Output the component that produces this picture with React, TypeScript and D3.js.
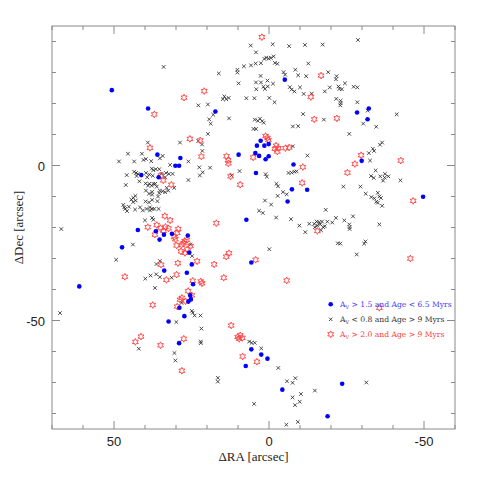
import React from "react";
import * as d3 from "d3";

// [ΔRA, ΔDec] in arcsec
const bluePoints: [number, number][] = [
  [50.7, 24.3], [39.0, 18.4], [36.0, 3.5], [41.2, -3.1], [35.6, -3.8], [-5.1, 27.7], [17.3, 17.4],
  [2.7, 8.0], [3.9, 6.4], [1.5, 6.4], [0.1, 6.9], [9.8, 3.5], [4.4, 4.0], [3.2, 3.1], [0.1, 3.0],
  [1.1, 2.0], [28.6, 2.4], [30.2, -0.1], [29.0, -0.1], [-7.9, 0.3], [4.2, -2.4], [-28.4, 17.1],
  [-32.2, 18.4], [-31.8, 14.9], [-29.9, 1.5], [42.3, -20.8], [36.5, -21.2], [35.3, -23.9],
  [47.4, -26.4], [61.2, -39.0], [33.9, -22.3], [31.3, -22.0], [26.2, -22.6], [25.7, -28.1],
  [24.9, -31.9], [33.8, -33.9], [26.5, -34.6], [24.5, -38.3], [25.4, -41.9], [25.2, -43.2],
  [26.0, -43.9], [28.9, -45.9], [27.3, -48.6], [32.4, -50.3], [7.3, -17.5], [5.7, -31.3],
  [-7.4, -7.7], [-6.0, -11.6], [-12.3, -7.8], [-49.7, -10.1], [29.0, -57.3], [5.7, -59.3],
  [2.5, -61.0], [0.5, -62.3], [7.5, -64.7], [-4.3, -72.3], [-23.6, -70.4], [-18.9, -80.9],
];

const redPoints: [number, number][] = [
  [2.3, 41.4], [20.9, 24.0], [27.4, 21.9], [37.0, 16.5], [38.4, 5.7], [25.5, 8.6], [22.2, 8.1],
  [21.8, 2.9], [34.8, -3.2], [34.1, -4.8], [31.5, -6.2], [13.7, 3.0], [13.2, 1.7], [13.1, 0.7],
  [12.4, -3.5], [9.3, -6.2], [5.1, 2.6], [1.1, 9.5], [0.5, 8.9], [0.2, 8.2], [-2.3, 6.4],
  [-1.9, 5.4], [-2.7, 4.5], [-3.0, 5.6], [-5.3, 5.6], [-6.5, 5.8], [-10.9, -0.5], [-13.5, 22.1],
  [-16.8, 29.0], [-14.6, 14.9], [-21.9, 15.2], [-29.7, 3.3], [-27.7, 0.5], [-25.3, -2.3],
  [-42.5, 1.6], [-10.7, -5.6], [-46.5, -11.4], [-15.6, -21.1], [-45.6, -30.0], [-35.6, -45.9],
  [-5.7, -37.1], [12.2, -51.6], [4.3, -30.4], [14.6, -36.2], [17.0, -18.6], [13.8, -29.4],
  [12.9, -28.3], [17.7, -31.9], [23.2, -30.9], [29.4, -31.5], [34.8, -32.0], [29.8, -35.2],
  [33.1, -36.9], [24.6, -37.2], [22.0, -37.4], [21.6, -38.0], [26.1, -40.5], [24.9, -41.9],
  [28.1, -42.7], [26.9, -43.8], [28.7, -43.3], [29.6, -45.5], [37.5, -45.0], [46.5, -35.9],
  [39.1, -19.9], [36.8, -22.3], [33.6, -16.3], [31.9, -17.7], [36.2, -19.2], [35.0, -20.2],
  [34.0, -21.1], [33.4, -19.8], [32.4, -20.3], [29.3, -20.5], [29.6, -21.7], [30.6, -23.1],
  [30.2, -23.8], [29.8, -25.8], [28.2, -25.6], [27.2, -24.4], [27.6, -25.1], [26.5, -24.0],
  [25.3, -26.0], [28.4, -27.7], [27.1, -28.2], [26.4, -27.1], [43.1, -56.9], [41.3, -55.2],
  [35.0, -58.0], [27.5, -55.9], [28.1, -66.2], [10.1, -55.3], [9.3, -54.8], [8.6, -55.6],
  [9.6, -55.9], [8.5, -61.6], [3.9, -63.3],
];

const crossPoints: [number, number][] = [
  [34.0, 31.8], [16.2, 29.7], [10.2, 30.9], [10.2, 30.0], [5.9, 38.7], [-1.2, 39.1], [-6.5, 38.5],
  [-11.6, 38.9], [-17.3, 39.0], [-28.7, 40.5], [4.2, 36.5], [1.5, 34.4], [0.9, 34.8], [0.1, 34.5],
  [-0.6, 34.7], [-1.5, 35.2], [4.3, 32.9], [2.6, 33.0], [-1.9, 33.1], [-2.7, 32.8], [5.8, 32.3],
  [8.1, 32.0], [-8.5, 30.9], [-4.7, 30.1], [-5.2, 29.3], [-9.4, 29.1], [-12.0, 28.8], [-12.7, 32.9],
  [-19.1, 30.1], [-21.8, 28.8], [-21.6, 27.8], [2.7, 28.9], [4.2, 26.8], [2.6, 26.8], [0.5, 27.4],
  [-1.3, 26.4], [9.8, 26.5], [1.8, 25.4], [1.3, 24.7], [0.4, 25.5], [4.1, 24.6], [-6.7, 25.3],
  [-7.3, 24.5], [-8.2, 23.9], [-10.0, 25.2], [-11.2, 23.1], [-13.8, 23.2], [-18.0, 23.9],
  [-19.6, 25.2], [-22.4, 25.5], [-22.7, 24.7], [-23.5, 24.6], [-24.5, 26.5], [-27.3, 25.4],
  [-28.5, 25.2], [-21.7, 21.5], [-23.1, 20.9], [-23.1, 20.1], [-23.0, 19.4], [-28.5, 20.4],
  [14.4, 22.3], [13.8, 21.4], [14.9, 21.4], [13.0, 21.8], [7.3, 21.7], [4.7, 21.7], [-0.1, 21.8],
  [-1.8, 20.4], [19.7, 19.7], [22.8, 19.4], [18.0, 16.4], [12.9, 15.2], [19.3, 14.9], [18.8, 13.5],
  [2.9, 15.1], [2.2, 14.3], [3.6, 14.4], [4.6, 14.8], [1.7, 13.8], [5.0, 11.8], [4.2, 11.8],
  [-11.0, 16.6], [-9.4, 12.7], [-7.7, 12.6], [-17.7, 14.8], [-41.2, 16.5], [-31.8, 17.7],
  [-30.4, 13.5], [-34.6, 12.5], [-25.9, 10.2], [19.7, 10.2], [22.8, 7.9], [21.6, 6.8], [39.1, 7.4],
  [28.7, 7.4],
  [21.5, 4.7], [34.3, 3.1], [35.2, 2.3], [26.0, 1.3], [22.5, -0.6], [19.0, -0.7], [21.4, -2.2],
  [31.9, 0.2], [37.8, -1.0], [37.3, -1.5], [36.5, -1.2], [35.4, -1.2], [33.2, -2.4], [32.3, -2.7],
  [31.1, -2.7], [33.5, -3.8], [26.0, -4.7], [37.5, -3.3], [34.7, -2.7], [48.4, 1.3], [45.5, 3.8],
  [41.0, 3.8], [43.5, 1.3], [40.5, 1.8], [39.7, 2.1], [38.0, 1.4], [45.9, -3.1], [43.5, -2.0],
  [42.9, -2.4], [42.3, -2.7], [42.7, -3.4], [39.7, -2.4], [38.6, -2.9], [39.3, -3.8], [46.2, -6.3],
  [41.8, -5.1], [39.8, -5.8], [39.0, -6.5], [38.6, -5.9], [37.8, -6.5], [37.3, -5.9], [36.7, -5.9],
  [36.2, -6.8], [39.7, -8.1], [38.7, -9.1], [37.7, -8.5], [37.7, -9.4], [35.2, -8.1], [35.4, -8.9],
  [34.3, -8.3], [33.5, -8.6], [33.0, -7.2], [32.5, -8.1], [30.6, -7.2], [22.3, -3.2], [35.8, -10.0],
  [44.4, -11.0], [43.8, -10.4], [43.1, -9.8], [43.0, -11.3], [43.8, -11.8], [39.8, -11.6],
  [38.7, -11.9], [37.7, -11.1], [36.0, -11.5], [47.0, -12.7], [46.7, -13.5], [46.4, -14.0],
  [45.8, -14.7], [45.2, -13.3], [43.2, -14.2], [41.6, -13.5], [40.7, -14.5], [39.5, -14.0],
  [38.4, -13.5], [38.4, -14.5], [37.7, -14.0], [37.0, -14.0], [35.6, -14.0], [40.0, -17.7],
  [37.7, -16.9], [37.3, -17.5], [67.0, -20.5], [43.9, -25.5], [49.3, -30.4], [67.4, -47.6],
  [25.4, -25.5], [24.8, -29.2], [35.2, -30.8], [36.3, -31.8], [38.2, -35.5], [39.9, -36.5],
  [36.4, -35.1], [35.2, -36.0], [31.4, -36.2], [36.8, -39.5], [28.2, -44.3], [24.9, -46.9],
  [24.6, -47.5], [24.0, -48.4], [22.1, -48.4], [21.8, -52.6], [29.9, -50.5],
  [12.1, -3.2], [9.5, -1.8], [1.1, -2.8], [0.7, -3.6], [-6.3, -2.4], [-7.3, -2.3], [-8.2, -2.0],
  [-8.9, -1.9], [-2.4, -5.9], [-2.9, -6.7], [-4.5, -8.6], [-5.7, -9.3], [-2.8, -9.8], [1.3, -11.3],
  [-0.7, -12.6], [3.2, -14.6], [2.0, -15.3], [-2.3, -16.8], [-7.1, -17.3], [-9.8, -19.4],
  [-11.7, -21.5], [-0.1, -27.0], [-12.4, 3.2], [-7.7, 6.2], [-32.9, -3.4], [-33.8, -4.0],
  [-35.9, -3.5], [-37.4, -2.7], [-38.5, -3.5], [-37.3, -3.9], [-34.4, -1.6], [-36.8, -4.9],
  [-42.4, -4.8], [-24.0, -6.8], [-29.5, -6.8], [-31.2, -9.1], [-35.1, -8.8], [-33.0, -10.2],
  [-34.0, -10.6], [-35.6, -10.0], [-36.1, -10.5], [-34.6, -11.7], [-35.1, -12.0], [-36.5, -13.0],
  [-18.3, -14.3], [-13.0, -18.8], [-14.6, -18.8], [-15.4, -18.1], [-15.6, -19.4], [-14.8, -19.9],
  [-16.2, -18.3], [-16.5, -19.0], [-17.1, -18.1], [-17.5, -19.9], [-18.0, -19.6], [-16.8, -20.9],
  [-18.8, -18.1], [-20.4, -18.4], [-21.6, -16.9], [-24.3, -17.7], [-25.9, -19.0], [-26.0, -19.9],
  [-26.0, -20.5], [-27.1, -16.4], [-35.6, -19.0], [-22.2, -25.1], [-23.0, -25.2], [-31.1, -24.5],
  [-30.7, -25.2], [-28.3, -28.7], [-36.5, 7.4], [-35.8, 6.7], [-33.5, 5.4], [-33.9, 4.7],
  [-32.2, 4.0], [-32.6, 1.6],
  [42.0, -59.1], [22.0, -56.8], [22.0, -57.3], [30.5, -60.5], [30.2, -62.9], [6.4, -56.8],
  [5.6, -57.2], [4.6, -57.2], [2.5, -59.0], [-3.0, -65.3], [-5.8, -69.6], [-7.6, -70.1],
  [-8.5, -68.6], [16.5, -68.5], [16.5, -69.7], [-10.3, -73.7], [-7.6, -74.8], [-9.9, -76.2],
  [-8.4, -77.3], [4.8, -76.9], [-5.6, -83.6], [-9.3, -82.7], [-31.4, -70.0], [-14.8, -72.6],
];

const xDomain: [number, number] = [70, -60];
const yDomain: [number, number] = [45, -85];
const majorTicks = [50, 0, -50];
const xTickLabels = ["50", "0", "-50"];
const yTickLabels = ["0", "-50"];
const yLabelValues = [0, -50];
const legendItems = [
  { kind: "blue", pre: "A", sub: "V", post: " > 1.5 and Age < 6.5 Myrs", color: "#3a3aff" },
  { kind: "cross", pre: "A", sub: "V", post: " < 0.8 and Age > 9 Myrs", color: "#333" },
  { kind: "red", pre: "A", sub: "V", post: " > 2.0 and Age > 9 Myrs", color: "#ff3a3a" },
];

const L = 52, R = 455, T = 26, B = 429;

function starPath(cx: number, cy: number, ro: number, ri: number) {
  const p = d3.path();
  for (let k = 0; k < 12; k++) {
    const a = -Math.PI / 2 + (k * Math.PI) / 6;
    const r = k % 2 === 0 ? ro : ri;
    const px = cx + r * Math.cos(a);
    const py = cy + r * Math.sin(a);
    if (k === 0) p.moveTo(px, py);
    else p.lineTo(px, py);
  }
  p.closePath();
  return p.toString();
}

function crossPath(cx: number, cy: number, s: number) {
  return `M${cx - s},${cy - s}L${cx + s},${cy + s}M${cx - s},${cy + s}L${cx + s},${cy - s}`;
}

export default function App() {
  const x = d3.scaleLinear().domain(xDomain).range([L, R]);
  const y = d3.scaleLinear().domain(yDomain).range([T, B]);
  const minorX = d3.range(-60, 71, 10);
  const minorY = d3.range(-80, 41, 10);
  const axisColor = "#8a8a8a";
  const tickEls: JSX.Element[] = [];
  minorX.forEach((v) => {
    const len = majorTicks.includes(v) ? 8 : 4;
    tickEls.push(<line key={"xb" + v} x1={x(v)} x2={x(v)} y1={B} y2={B - len} />);
    tickEls.push(<line key={"xt" + v} x1={x(v)} x2={x(v)} y1={T} y2={T + len} />);
  });
  minorY.forEach((v) => {
    const len = majorTicks.includes(v) ? 8 : 4;
    tickEls.push(<line key={"yl" + v} x1={L} x2={L + len} y1={y(v)} y2={y(v)} />);
    tickEls.push(<line key={"yr" + v} x1={R} x2={R - len} y1={y(v)} y2={y(v)} />);
  });

  return (
    <svg width={480} height={480} style={{ position: "absolute", left: 0, top: 0, background: "#fff" }}>
      <g fill="none" stroke="#222" strokeWidth={0.8}>
        {crossPoints.map((d, i) => (
          <path key={"c" + i} d={crossPath(x(d[0]), y(d[1]), 1.8)} />
        ))}
      </g>
      <g fill="none" stroke="#ff4040" strokeWidth={0.9}>
        {redPoints.map((d, i) => (
          <path key={"r" + i} d={starPath(x(d[0]), y(d[1]), 3.4, 1.8)} />
        ))}
      </g>
      <g fill="#0000ff">
        {bluePoints.map((d, i) => (
          <circle key={"b" + i} cx={x(d[0])} cy={y(d[1])} r={2.3} />
        ))}
      </g>
      <g stroke={axisColor} strokeWidth={1} fill="none">
        <rect x={L} y={T} width={R - L} height={B - T} />
        {tickEls}
      </g>
      <g fontFamily="Liberation Sans, Arial, sans-serif" fontSize={13} fill="#222">
        {majorTicks.map((v, i) => (
          <text key={"xl" + v} x={x(v)} y={446} textAnchor="middle">{xTickLabels[i]}</text>
        ))}
        {yLabelValues.map((v, i) => (
          <text key={"yl" + v} x={45} y={y(v) + 5} textAnchor="end">{yTickLabels[i]}</text>
        ))}
      </g>
      <g fontFamily="Liberation Serif, Times New Roman, serif" fontSize={13} fill="#222">
        <text x={(L + R) / 2} y={461} textAnchor="middle">ΔRA [arcsec]</text>
        <text transform={`translate(23,${(T + B) / 2}) rotate(-90)`} textAnchor="middle">ΔDec [arcsec]</text>
      </g>
      <g fontFamily="DejaVu Serif, serif" fontSize={7.6}>
        {legendItems.map((it, i) => {
          const cy = 304.3 + i * 15;
          const cx = 330.7;
          return (
            <g key={"lg" + i}>
              {it.kind === "blue" && <circle cx={cx} cy={cy} r={2.3} fill="#0000ff" />}
              {it.kind === "cross" && <path d={crossPath(cx, cy, 1.7)} stroke="#222" strokeWidth={0.8} />}
              {it.kind === "red" && <path d={starPath(cx, cy, 3.4, 1.8)} stroke="#ff4040" strokeWidth={0.9} fill="none" />}
              <text x={340} y={cy + 3} fill={it.color}>
                {it.pre}
                <tspan fontSize={5} dy={1.8}>{it.sub}</tspan>
                <tspan dy={-1.8}>{it.post}</tspan>
              </text>
            </g>
          );
        })}
      </g>
    </svg>
  );
}
